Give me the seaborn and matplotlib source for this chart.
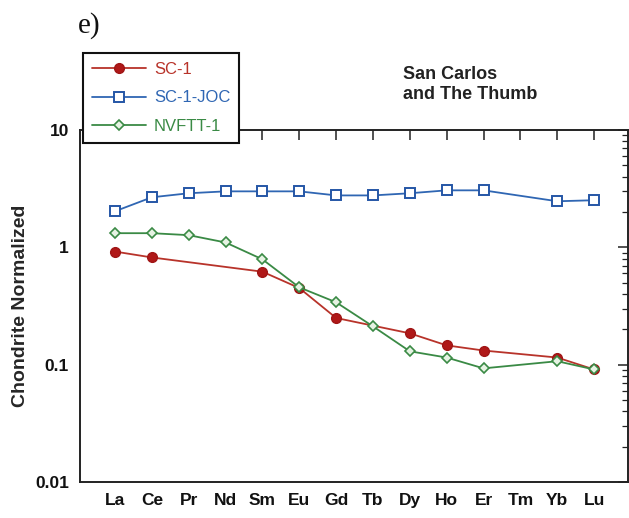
import numpy as np
import pandas as pd
import matplotlib
matplotlib.use("Agg")
import matplotlib.pyplot as plt
import seaborn as sns
from matplotlib.ticker import LogLocator, NullFormatter, FixedLocator

sns.set_theme(style="white")
plt.rcParams['font.family'] = ['Liberation Sans', 'DejaVu Sans']

elements = ["La", "Ce", "Pr", "Nd", "Sm", "Eu", "Gd", "Tb", "Dy", "Ho", "Er", "Tm", "Yb", "Lu"]
sc1 = [0.92, 0.82, np.nan, np.nan, 0.62, 0.45, 0.25, np.nan, 0.185, 0.146, 0.132, np.nan, 0.115, 0.091]
sc1_joc = [2.03, 2.67, 2.89, 3.0, 3.0, 3.0, 2.77, 2.77, 2.89, 3.06, 3.06, np.nan, 2.47, 2.52]
nvftt1 = [1.32, 1.32, 1.27, 1.10, 0.79, 0.456, 0.34, 0.212, 0.13, 0.115, 0.093, np.nan, 0.107, 0.091]
series_names = ["SC-1", "SC-1-JOC", "NVFTT-1"]
y_ticks = [0.01, 0.1, 1, 10]
y_tick_labels = ["0.01", "0.1", "1", "10"]

fig = plt.figure(figsize=(6.29, 5.18), dpi=100)
ax = fig.add_axes([80/629, 1-482/518, (628-80)/629, (482-130)/518])

styles = {
    "SC-1": dict(color="#b8332a", marker="o", markersize=7, markerfacecolor="#b01818",
                 markeredgecolor="#a01515", markeredgewidth=1.0),
    "SC-1-JOC": dict(color="#2f66b3", marker="s", markersize=6.5, markerfacecolor="white",
                     markeredgecolor="#2556a6", markeredgewidth=1.4),
    "NVFTT-1": dict(color="#3a8a45", marker="D", markersize=5.5, markerfacecolor="#e6f3e3",
                    markeredgecolor="#3a8a45", markeredgewidth=1.2),
}
for name, vals in zip(series_names, [sc1, sc1_joc, nvftt1]):
    df = pd.DataFrame({"pos": np.arange(len(elements)), "val": vals}).dropna()
    sns.lineplot(data=df, x="pos", y="val", ax=ax, sort=False, linewidth=1.3,
                 label=name, legend=False, **styles[name])

ax.set_yscale("log")
ax.set_ylim(0.01, 10)
ax.set_xlim(-0.95, 13.92)
ax.yaxis.set_major_locator(FixedLocator(y_ticks))
ax.set_yticklabels(y_tick_labels)
ax.yaxis.set_minor_locator(LogLocator(base=10, subs=np.arange(2, 10)))
ax.yaxis.set_minor_formatter(NullFormatter())
ax.set_xticks(np.arange(len(elements)))
ax.set_xticklabels(elements)
ax.set_xlabel("")
ax.set_ylabel("Chondrite Normalized", fontsize=14, fontweight="bold", labelpad=4)
for lab in ax.get_xticklabels() + ax.get_yticklabels():
    lab.set_fontweight("bold")
    lab.set_fontsize(12.5)
    lab.set_color("#111111")
ax.tick_params(axis="both", which="both", direction="in", top=True, right=True,
               color="#222222")
ax.tick_params(axis="both", which="major", length=7, width=1.1, pad=8)
ax.tick_params(axis="y", which="minor", length=4, width=0.9)
for sp in ax.spines.values():
    sp.set_color("#222222")
    sp.set_linewidth(1.4)

handles, labels = ax.get_legend_handles_labels()
leg = fig.legend(handles, labels, loc="upper left", bbox_to_anchor=(83/629, 1-53/518),
                 borderaxespad=0, frameon=True, fancybox=False, fontsize=12,
                 handlelength=3.2, handletextpad=0.5, borderpad=0.55, labelspacing=0.8)
leg.get_frame().set_edgecolor("#111111")
leg.get_frame().set_linewidth(1.5)
leg.get_frame().set_facecolor("white")
leg.get_frame().set_alpha(1)
text_colors = ["#b8332a", "#2f66b3", "#3a8a45"]
for t, c in zip(leg.get_texts(), text_colors):
    t.set_color(c)
leg.set_zorder(10)

fig.text(403/629, 1-66/518, "San Carlos\nand The Thumb", ha="left", va="top",
         fontsize=13, fontweight="bold", color="#222222", linespacing=1.2)
fig.text(78/629, 1-12/518, "e)", ha="left", va="top", fontsize=21,
         family=["Liberation Serif", "DejaVu Serif"], color="#111111")

fig.savefig("out.png", dpi=100)
